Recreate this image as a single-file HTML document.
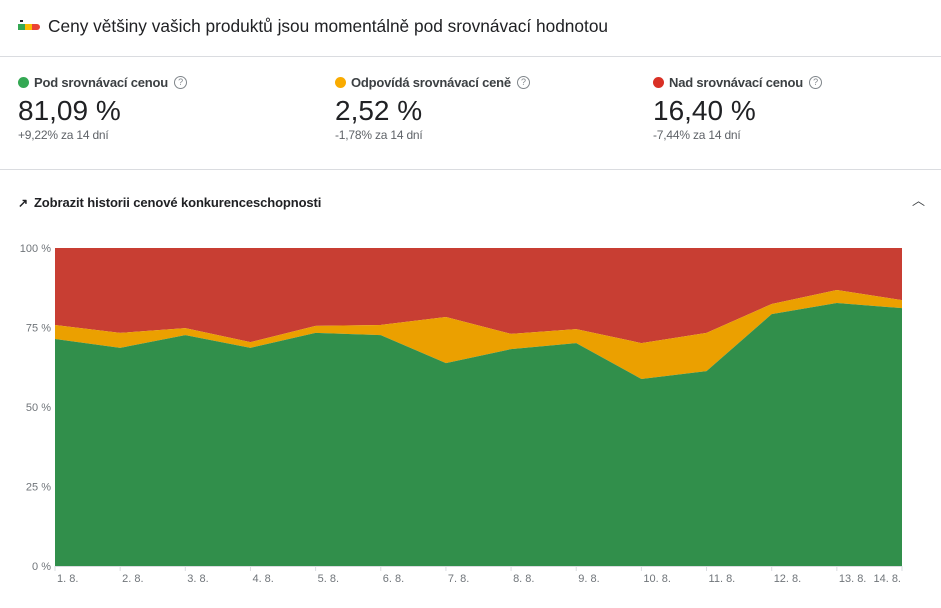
<!DOCTYPE html>
<html><head><meta charset="utf-8"><style>
body{margin:0;width:941px;height:608px;background:#fff;font-family:"Liberation Sans",Roboto,sans-serif;color:#202124;overflow:hidden;position:relative}
.abs{position:absolute}
.hr{position:absolute;left:0;width:941px;height:1px;background:#dadce0}
.lbl{font-size:13px;font-weight:bold;color:#3c4043;display:flex;align-items:center;letter-spacing:-0.2px}
.dot{width:11px;height:11px;border-radius:50%;display:inline-block;margin-right:5px}
.q{display:inline-block;width:11px;height:11px;border:1px solid #80868b;border-radius:50%;font-size:9px;line-height:11px;text-align:center;color:#80868b;margin-left:6px;font-weight:normal}
.val{font-size:28px;color:#202124}
.sub{font-size:12px;color:#5f6368;letter-spacing:-0.2px}
</style></head><body>
<div class="abs" style="left:18px;top:24px;width:22px;height:6px">
 <div class="abs" style="left:0;top:0;width:7px;height:6px;background:#34a853"></div>
 <div class="abs" style="left:7px;top:0;width:7px;height:6px;background:#fbbc04"></div>
 <div class="abs" style="left:14px;top:0;width:8px;height:6px;background:#ea4335;border-radius:0 3px 3px 0"></div>
 <div class="abs" style="left:2px;top:-4px;width:3px;height:2px;background:#202124"></div>
</div>
<div class="abs" style="left:48px;top:16px;font-size:17.3px;color:#202124">Ceny většiny vašich produktů jsou momentálně pod srovnávací hodnotou</div>
<div class="hr" style="top:56px"></div>

<div class="abs" style="left:18px;top:75px">
 <div class="lbl"><span class="dot" style="background:#34a853"></span>Pod srovnávací cenou<span class="q">?</span></div>
 <div class="val" style="margin-top:5px">81,09 %</div>
 <div class="sub" style="margin-top:1px">+9,22% za 14 dní</div>
</div>
<div class="abs" style="left:335px;top:75px">
 <div class="lbl"><span class="dot" style="background:#f9ab00"></span>Odpovídá srovnávací ceně<span class="q">?</span></div>
 <div class="val" style="margin-top:5px">2,52 %</div>
 <div class="sub" style="margin-top:1px">-1,78% za 14 dní</div>
</div>
<div class="abs" style="left:653px;top:75px">
 <div class="lbl"><span class="dot" style="background:#d93025"></span>Nad srovnávací cenou<span class="q">?</span></div>
 <div class="val" style="margin-top:5px">16,40 %</div>
 <div class="sub" style="margin-top:1px">-7,44% za 14 dní</div>
</div>
<div class="hr" style="top:169px"></div>

<div class="abs" style="left:18px;top:195px;font-size:13px;font-weight:bold;color:#202124;letter-spacing:-0.1px">
 <span style="font-size:12px;margin-right:6px">↗</span>Zobrazit historii cenové konkurenceschopnosti</div>
<div class="abs" style="left:912px;top:190px;font-size:13px;color:#3c4043">︿</div>

<svg id="chart" class="abs" style="left:0;top:0" width="941" height="608"></svg>
<script>
const categories=["1. 8.","2. 8.","3. 8.","4. 8.","5. 8.","6. 8.","7. 8.","8. 8.","9. 8.","10. 8.","11. 8.","12. 8.","13. 8.","14. 8."];
const belowValues=[71.4,68.6,72.6,68.6,73.3,72.6,63.8,68.2,70.1,58.8,61.3,79.2,82.7,81.09];
const equalValues=[4.4,4.7,2.2,1.8,2.2,3.2,14.5,4.8,4.4,11.3,12.0,3.2,4.1,2.52];
const yTicks=[0,25,50,75,100];
const yTickLabels=["0 %","25 %","50 %","75 %","100 %"];
const svg=document.getElementById('chart');
const NS='http://www.w3.org/2000/svg';
const x0=55,x1=902,y0=566,y1=248;
const xs=i=>x0+(x1-x0)*i/(categories.length-1);
const ys=v=>y0-(y0-y1)*v/100;
function mk(t,a){const e=document.createElementNS(NS,t);for(const k in a)e.setAttribute(k,a[k]);svg.appendChild(e);return e;}
function area(lo,hi,color,name){
 let d='';
 hi.forEach((v,i)=>{d+=(i?'L':'M')+xs(i)+','+ys(v);});
 for(let i=lo.length-1;i>=0;i--)d+='L'+xs(i)+','+ys(lo[i]);
 const p=mk('path',{d:d+'Z',fill:color});
 
 
}
const zeros=categories.map(()=>0);
const tops=belowValues.map((v,i)=>v+equalValues[i]);
const hundreds=categories.map(()=>100);
area(tops,hundreds,'#c83e33','area-above');
area(belowValues,tops,'#eba000','area-equal');
area(zeros,belowValues,'#318f4b','area-below');
mk('line',{x1:x0,x2:x1,y1:y0+0.5,y2:y0+0.5,stroke:'#dadce0'});
yTicks.forEach((t,i)=>{
 const e=mk('text',{x:51,y:ys(t)+4,'text-anchor':'end','font-size':11,fill:'#70757a','font-family':'Liberation Sans,sans-serif'});
 e.textContent=yTickLabels[i];
 
 
});
categories.forEach((c,i)=>{
 const x=xs(i);
 mk('line',{x1:x,x2:x,y1:y0,y2:y0+5,stroke:'#dadce0'});
 const last=i===categories.length-1;
 const e=mk('text',{x:last?x-1:x+2,y:582,'text-anchor':last?'end':'start','font-size':11,fill:'#70757a','font-family':'Liberation Sans,sans-serif'});
 e.textContent=c;
 
 
});
</script>
</body></html>
